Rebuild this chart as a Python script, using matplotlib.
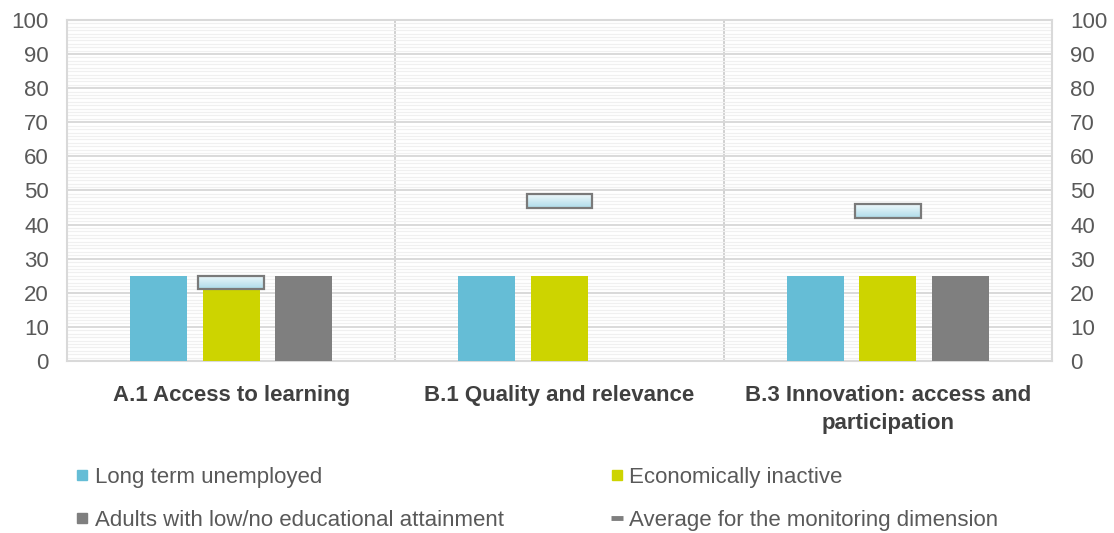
import numpy as np
import matplotlib
matplotlib.use("Agg")
import matplotlib.pyplot as plt
from matplotlib.lines import Line2D

plt.rcParams["font.family"] = ["Liberation Sans", "DejaVu Sans"]

categories = ["A.1 Access to learning", "B.1 Quality and relevance",
              "B.3 Innovation: access and\nparticipation"]
long_term = [25, 25, 25]
inactive = [25, 25, 25]
low_edu = [25, np.nan, 25]
average = [23, 47, 44]

BLUE = "#65BDD6"
GREEN = "#CDD400"
GREY = "#7F7F7F"
GRID = "#D9D9D9"
TXT = "#404040"

fig = plt.figure(figsize=(11.14, 5.33), dpi=100)
ax = fig.add_axes([0.0601, 0.3227, 0.8842, 0.6398])
x = np.arange(len(categories))
w = 0.174
off = 0.221

ax.bar(x - off, long_term, w, color=BLUE, zorder=3)
ax.bar(x, inactive, w, color=GREEN, zorder=3)
ax.bar(x + off, low_edu, w, color=GREY, zorder=3)

# average markers: small boxes with a light gradient
grad = np.linspace(0, 1, 50).reshape(-1, 1)
cmap = matplotlib.colors.LinearSegmentedColormap.from_list("g", ["#AEDCEA", "#EEF8FB"])
for xi, a in zip(x, average):
    b = ax.bar(xi, 4, 0.2, bottom=a - 2, facecolor="none", edgecolor="#7A7A7A",
               lw=1.6, zorder=5)[0]
    im = ax.imshow(grad, extent=(xi - 0.1, xi + 0.1, a - 2, a + 2), origin="lower",
                   cmap=cmap, aspect="auto", zorder=4)
    im.set_clip_path(b)

ax.set_xlim(-0.5, 2.5)
ax.set_ylim(0, 100)
ax.set_yticks(range(0, 101, 10))
ax.set_yticks(range(0, 101, 1), minor=True)
ax.grid(axis="y", which="major", color=GRID, lw=1.4, zorder=1)
ax.grid(axis="y", which="minor", color="#F0F0F0", lw=0.9, zorder=0)
for sx in (0.5, 1.5):
    ax.axvline(sx, color="#D0D0D0", lw=1.4, zorder=1)
for s in ax.spines.values():
    s.set_color(GRID)
    s.set_linewidth(1.5)

ax.set_xticks(x)
ax.set_xticklabels(categories, fontsize=16, fontweight="bold", color=TXT, linespacing=1.45)
ax.tick_params(axis="x", length=0, pad=17)
ax.tick_params(axis="y", which="both", length=0, pad=13, labelsize=16, labelcolor="#595959")

ax2 = ax.twinx()
ax2.set_ylim(0, 100)
ax2.set_yticks(range(0, 101, 10))
ax2.tick_params(axis="y", length=0, pad=13, labelsize=16, labelcolor="#595959")
for s in ax2.spines.values():
    s.set_visible(False)

handles = [
    Line2D([], [], ls="none", marker="s", ms=6.5, color=BLUE),
    Line2D([], [], ls="none", marker="s", ms=6.5, color=GREY),
    Line2D([], [], ls="none", marker="s", ms=6.5, color=GREEN),
    Line2D([], [], ls="none", marker="_", ms=9, mew=3.5, color=GREY),
]
labels = ["Long term unemployed", "Adults with low/no educational attainment",
          "Economically inactive", "Average for the monitoring dimension"]
fig.legend(handles, labels, ncol=2, loc="upper left", bbox_to_anchor=(0.061, 0.14),
           frameon=False, fontsize=16, handlelength=0.5, handletextpad=0.3,
           columnspacing=4.85, labelspacing=0.98, labelcolor="#595959",
           borderaxespad=0)

fig.savefig("out.png", dpi=100, facecolor="white")
